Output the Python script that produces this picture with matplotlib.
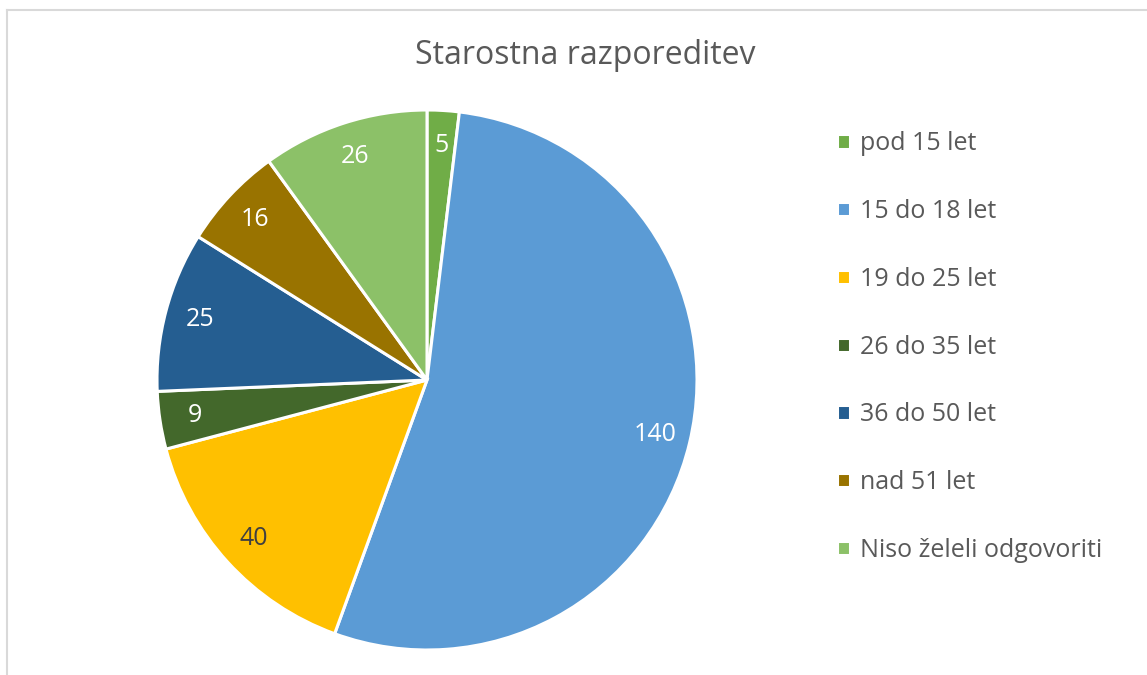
import matplotlib.pyplot as plt
from matplotlib.lines import Line2D

# podatki
categories = ["pod 15 let", "15 do 18 let", "19 do 25 let", "26 do 35 let",
              "36 do 50 let", "nad 51 let", "Niso želeli odgovoriti"]
values = [5, 140, 40, 9, 25, 16, 26]
colors = ["#70AD47", "#5B9BD5", "#FFC000", "#43682B", "#255E91", "#997300", "#8CC168"]
label_colors = ["white", "white", "#404040", "white", "white", "white", "white"]

plt.rcParams['font.family'] = ['Open Sans', 'DejaVu Sans']

W, H = 1147, 675
fig = plt.figure(figsize=(W / 100, H / 100), dpi=100)

# pie axes: centre (427, 380) px, radius 270 px
ax = fig.add_axes([157 / W, 25 / H, 540 / W, 540 / H])
total = sum(values)
wedges, texts, autotexts = ax.pie(
    values, colors=colors, startangle=90, counterclock=False,
    autopct=lambda p: f"{round(p * total / 100)}", pctdistance=0.87,
    wedgeprops=dict(edgecolor="white", linewidth=2.2),
    textprops=dict(fontsize=18))
for t, c in zip(autotexts, label_colors):
    t.set_color(c)
ax.set_xlim(-1, 1)
ax.set_ylim(-1, 1)
ax.set_aspect("equal")

# naslov
fig.text(585 / W, 1 - 55 / H, "Starostna razporeditev", ha="center", va="center",
         fontsize=23, color="#595959")

# legenda
leg = fig.legend(wedges, categories, loc="center left",
                 bbox_to_anchor=(837 / W, 1 - 347 / H), frameon=False,
                 fontsize=18, handlelength=0.5, handleheight=0.5,
                 handletextpad=0.4, labelspacing=1.71,
                 borderpad=0, borderaxespad=0)
for t in leg.get_texts():
    t.set_color("#595959")

# okvir
fig.add_artist(Line2D([7.5 / W, 1], [1 - 9.5 / H, 1 - 9.5 / H], color="#D9D9D9", lw=1.5))
fig.add_artist(Line2D([7.5 / W, 7.5 / W], [0, 1 - 9.5 / H], color="#D9D9D9", lw=1.5))

fig.savefig("out.png", dpi=100)
